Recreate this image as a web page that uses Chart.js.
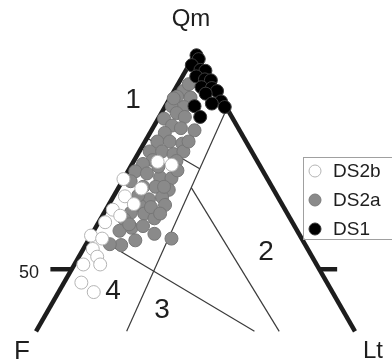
<!DOCTYPE html>
<html>
<head>
<meta charset="utf-8">
<script src="https://cdn.jsdelivr.net/npm/chart.js@4"></script>
<style>
  body { margin: 0; background: #fff; }
  #wrap { width: 392px; height: 364px; position: relative; }
</style>
</head>
<body>
<div id="wrap"><canvas id="qmflt"></canvas></div>
<script>
// QmFLt ternary data (percent Qm, percent F; Lt is the rest)
const ds1Qm = [99.6, 98.7, 97.3, 96.2, 96.0, 94.7, 94.0, 93.8, 92.2, 92.0, 91.3, 90.7, 88.9, 88.4, 87.8, 85.3, 87.6];
const ds1F  = [0.0, 0.0, 2.1, 0.9, 0.0, 2.5, 1.1, 0.0, 2.7, 0.7, 0.0, 2.6, 0.4, 2.5, 6.3, 6.4, 0.3];

const ds2aQm = [91.3, 92.9, 90.0, 89.8, 87.8, 87.6, 86.2, 85.3, 84.9, 83.3, 82.7, 82.2, 81.6, 79.6, 79.6, 79.1,
                77.3, 77.3, 76.7, 77.3, 75.3, 74.4, 72.7, 72.2, 71.3, 71.1, 70.4, 69.1, 69.1, 68.4, 66.7, 66.2,
                64.9, 64.7, 63.1, 62.9, 61.6, 61.8, 59.6, 58.9, 60.0, 56.7, 55.6, 55.8, 58.2, 57.1, 75.1, 73.8,
                67.1, 64.4, 72.9, 69.1, 60.4, 62.9, 79.6, 89.6];
const ds2aF  = [6.8, 4.9, 8.7, 6.1, 10.9, 8.5, 10.7, 9.5, 13.9, 13.1, 11.6, 9.1, 15.4, 17.9, 15.4, 13.1,
                20.6, 18.1, 16.1, 13.8, 21.0, 23.4, 25.8, 23.7, 21.5, 19.3, 27.9, 26.0, 23.5, 21.2, 23.4, 26.3,
                23.7, 28.8, 31.5, 28.9, 33.6, 27.4, 33.1, 35.9, 30.6, 33.8, 37.2, 39.4, 29.2, 26.3, 16.3, 20.6,
                28.0, 26.8, 17.2, 21.8, 33.2, 25.7, 11.6, 9.6];

const ds2bQm = [74.9, 74.2, 70.9, 68.7, 66.9, 65.1, 63.8, 62.4, 60.9, 57.8, 57.1, 54.7, 52.9, 51.1, 51.1, 46.9, 44.7];
const ds2bF  = [20.2, 17.7, 29.1, 26.6, 30.8, 29.9, 34.8, 34.0, 37.8, 42.2, 40.3, 43.4, 43.4, 47.1, 43.7, 49.6, 48.2];

// field boundaries, [Qm, F] end points
const fieldLines = [
  [[87.3, 0.0], [35.6, 46.1]],
  [[68.9, 16.4], [35.6, 15.3]],
  [[58.1, 41.9], [35.6, 20.3]],
  [[80.4, 19.6], [73.3, 12.5]]
];
const qmCut = 35.6;   // lower limit of the plotted triangle
const tickQm = 50;

function tern(qm, f) {
  const lt = 100 - qm - f;
  return { x: lt + qm / 2, y: qm * Math.sqrt(3) / 2 };
}
function pts(qm, f) {
  return qm.map((q, i) => tern(q, f[i]));
}

const edgeColor = "#1d1d1d";
const lineSets = fieldLines.map(function (seg) {
  return {
    type: "scatter",
    data: [tern(seg[0][0], seg[0][1]), tern(seg[1][0], seg[1][1])],
    showLine: true, borderColor: "#3a3a3a", borderWidth: 1.2,
    pointRadius: 0, order: 10
  };
});

const apex = tern(100, 0);
const leftEnd = tern(qmCut, 100 - qmCut);
const rightEnd = tern(qmCut, 0);
const tl = tern(tickQm, 100 - tickQm);
const tr = tern(tickQm, 0);

const edgeSets = [
  { data: [apex, leftEnd] },
  { data: [apex, rightEnd] },
  { data: [tl, { x: tl.x - 4.3, y: tl.y }] },
  { data: [tr, { x: tr.x + 3.6, y: tr.y }] }
].map(function (d) {
  return Object.assign({
    type: "scatter", showLine: true, borderColor: edgeColor, borderWidth: 4.5,
    pointRadius: 0, order: 9, borderCapStyle: "butt"
  }, d);
});

const textFont = '"Liberation Sans", Arial, sans-serif';
const labels = [
  { t: "Qm", x: 191, y: 19, size: 24 },
  { t: "1", x: 133, y: 100, size: 28 },
  { t: "2", x: 266, y: 252, size: 28 },
  { t: "3", x: 162, y: 310, size: 28 },
  { t: "4", x: 113, y: 291, size: 28 },
  { t: "50", x: 29, y: 273, size: 18 },
  { t: "F", x: 22, y: 352, size: 26 },
  { t: "Lt", x: 373, y: 351, size: 24 }
];

const legendItems = [
  { t: "DS2b", fill: "#ffffff", stroke: "#b4b4b4" },
  { t: "DS2a", fill: "#8a8a8a", stroke: "#7a7a7a" },
  { t: "DS1", fill: "#000000", stroke: "#333333" }
];

const textPlugin = {
  id: "ternText",
  afterDraw(chart) {
    const c = chart.ctx;
    c.save();
    c.fillStyle = "#1e1e1e";
    c.textAlign = "center";
    c.textBaseline = "middle";
    labels.forEach(function (l) {
      c.font = l.size + "px " + textFont;
      c.fillText(l.t, l.x, l.y);
    });
    // legend box
    c.strokeStyle = "#a0a0a0";
    c.lineWidth = 1;
    c.strokeRect(303.5, 157.5, 100, 82);
    c.textAlign = "left";
    c.font = "19px " + textFont;
    legendItems.forEach(function (it, i) {
      const y = 171 + i * 29;
      c.beginPath();
      c.arc(315, y, 6, 0, Math.PI * 2);
      c.fillStyle = it.fill;
      c.fill();
      c.strokeStyle = it.stroke;
      c.stroke();
      c.fillStyle = "#1e1e1e";
      c.fillText(it.t, 333, y + 1);
    });
    c.restore();
  }
};

const ctx = document.getElementById("qmflt").getContext("2d");
new Chart(ctx, {
  type: "scatter",
  data: {
    datasets: [
      { label: "DS2b", data: pts(ds2bQm, ds2bF), backgroundColor: "#ffffff", borderColor: "#b4b4b4",
        borderWidth: 1, pointRadius: 6.5, order: 1 },
      { label: "DS1", data: pts(ds1Qm, ds1F), backgroundColor: "#000000", borderColor: "#3c3c3c",
        borderWidth: 1, pointRadius: 6.5, order: 2 },
      { label: "DS2a", data: pts(ds2aQm, ds2aF), backgroundColor: "#8a8a8a", borderColor: "#777777",
        borderWidth: 1, pointRadius: 6.5, order: 3 }
    ].concat(lineSets, edgeSets)
  },
  options: {
    responsive: true,
    maintainAspectRatio: false,
    animation: false,
    layout: { padding: 0 },
    clip: false,
    scales: {
      x: { type: "linear", min: 12.04, max: 88.16, display: false },
      y: { type: "linear", min: 25.78, max: 95.84, display: false }
    },
    plugins: {
      legend: { display: false },
      tooltip: { enabled: false }
    }
  },
  plugins: [textPlugin]
});
</script>
</body>
</html>
